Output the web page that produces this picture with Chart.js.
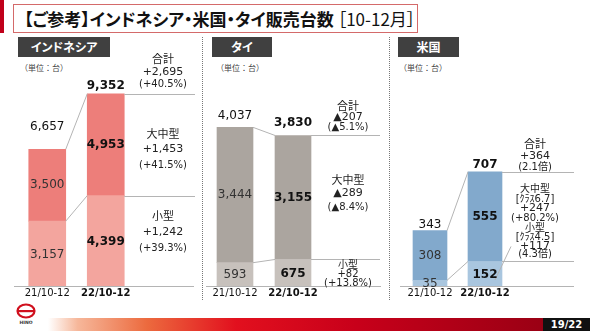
<!DOCTYPE html>
<html>
<head>
<meta charset="utf-8">
<script src="https://cdn.jsdelivr.net/npm/chart.js@4.4.0/dist/chart.umd.min.js"></script>
<style>
  html, body { margin: 0; padding: 0; }
  body { width: 590px; height: 331px; position: relative; overflow: hidden; background: #fff;
         font-family: "DejaVu Sans", "Noto Sans CJK JP", sans-serif; color: #222; }
  .abs { position: absolute; }
  .redtab { left: 0; top: 0; width: 4px; height: 33px; background: #c0001a; }
  .titlebox { left: 13px; top: 4px; width: 405px; height: 29px; border: 1px solid #d46a6a; box-sizing: border-box; }
  .title { left: 24px; top: 4px; height: 29px; line-height: 29px; font-family: "Noto Sans CJK JP", sans-serif;
           font-size: 17px; font-weight: bold; white-space: nowrap; font-feature-settings: "palt"; color: #111; }
  .title span { font-weight: normal; }
  .hdr { top: 37px; height: 20px; line-height: 20px; background: #404040; color: #fff; text-align: center;
         font-family: "Noto Sans CJK JP", sans-serif; font-weight: bold; font-size: 12px; font-feature-settings: "palt"; }
  .unit { top: 62px; font-family: "Noto Sans CJK JP", sans-serif; font-size: 8px; color: #444; white-space: nowrap; }
  .sep { top: 37px; width: 0; height: 263px; border-left: 1px dotted #777; }
  .note { width: 90px; text-align: center; font-size: 11px; line-height: 12px; height: 12px; white-space: nowrap; color: #222; }
  .note.s { font-size: 10px; }
  .wrap { position: absolute; }
  .footbar { left: 48px; top: 318px; width: 495px; height: 13px;
             background: linear-gradient(to right, #fff 0%, #f6b79a 6%, #ec6a3e 20%, #e2101e 38%, #c8001a 62%, #9a0014 100%); }
  .page { left: 543px; top: 318px; width: 47px; height: 13px; background: #111; color: #fff; font-size: 10px;
          font-weight: bold; line-height: 13px; text-align: center; }
</style>
</head>
<body>
<div class="abs redtab"></div>
<div class="abs titlebox"></div>
<div class="abs title">【ご参考】インドネシア・米国・タイ販売台数 <span>［10-12月］</span></div>

<div class="abs hdr" style="left:18px;width:92px;">インドネシア</div>
<div class="abs hdr" style="left:212px;width:60px;">タイ</div>
<div class="abs hdr" style="left:398px;width:61px;">米国</div>
<div class="abs unit" style="left:20px;">（単位：台）</div>
<div class="abs unit" style="left:216px;">（単位：台）</div>
<div class="abs unit" style="left:399px;">（単位：台）</div>
<div class="abs sep" style="left:202px;"></div>
<div class="abs sep" style="left:389px;"></div>

<div class="wrap" style="left:0px;top:60px;width:200px;height:240px;"><canvas id="c-indo"></canvas></div>
<div class="wrap" style="left:200px;top:60px;width:190px;height:240px;"><canvas id="c-thai"></canvas></div>
<div class="wrap" style="left:390px;top:60px;width:200px;height:240px;"><canvas id="c-us"></canvas></div>

<svg class="abs" style="left:14px;top:303px;" width="24" height="24" viewBox="0 0 24 24">
  <ellipse cx="12" cy="8" rx="8.5" ry="6.5" fill="none" stroke="#d0101e" stroke-width="2.2"/>
  <rect x="4" y="7" width="16" height="2.2" fill="#d0101e"/>
  <text x="12" y="21" font-size="4.5" font-weight="bold" text-anchor="middle" fill="#333" font-family="DejaVu Sans">HINO</text>
</svg>
<div class="abs footbar"></div>
<div class="abs page">19/22</div>

<script>
const categories = ['21/10-12', '22/10-12'];

const indoSmall = [3157, 4399];
const indoLarge = [3500, 4953];
const thaiSmall = [593, 675];
const thaiLarge = [3444, 3155];
const usSmall = [35, 152];
const usLarge = [308, 555];

const indoNotes = [['合計', 60], ['+2,695', 72], ['(+40.5%)', 84, 's'], ['大中型', 135], ['+1,453', 149], ['(+41.5%)', 165, 's'], ['小型', 217], ['+1,242', 232], ['(+39.3%)', 248, 's']];
const thaiNotes = [['合計', 107], ['▲207', 117], ['(▲5.1%)', 127, 's'], ['大中型', 181], ['▲289', 193], ['(▲8.4%)', 207, 's'], ['小型', 265, 's'], ['+82', 274, 's'], ['(+13.8%)', 283, 's']];
const usNotes = [['合計', 145], ['+364', 156], ['(2.1倍)', 167, 's'], ['大中型', 189, 's'], ['[ｸﾗｽ6.7]', 199, 's'], ['+247', 208], ['(+80.2%)', 218, 's'], ['小型', 228, 's'], ['[ｸﾗｽ4.5]', 237, 's'], ['+117', 246], ['(4.3倍)', 254, 's']];

function addNotes(notes, cx) {
  notes.forEach(n => {
    let d = document.createElement('div');
    d.className = 'abs note' + (n[2] ? ' ' + n[2] : '');
    d.style.left = (cx - 45) + 'px';
    d.style.top = (n[1] - 6) + 'px';
    d.textContent = n[0];
    document.body.appendChild(d);
  });
}
addNotes(indoNotes, 163);
addNotes(thaiNotes, 348);
addNotes(usNotes, 535);

const fmt = v => v.toLocaleString('en-US');
const FONT = '"DejaVu Sans", sans-serif';

const decor = {
  id: 'decor',
  afterDatasetsDraw(chart, args, o) {
    const ctx = chart.ctx;
    const lo = chart.getDatasetMeta(0).data, hi = chart.getDatasetMeta(1).data;
    const bottom = chart.chartArea.bottom;
    ctx.save();
    ctx.strokeStyle = '#b4b4b4';
    ctx.lineWidth = 1;
    ctx.beginPath();
    ctx.moveTo(o.baseFrom, bottom + 0.5);
    ctx.lineTo(o.baseTo, bottom + 0.5);
    // connectors between the two bars
    const r0 = lo[0].x + lo[0].width / 2, l1 = lo[1].x - lo[1].width / 2, r1 = lo[1].x + lo[1].width / 2;
    [[hi[0].y, hi[1].y], [lo[0].y, lo[1].y]].forEach(p => {
      ctx.moveTo(r0, p[0]);
      ctx.lineTo(l1, p[1]);
      ctx.moveTo(r1, Math.round(p[1]) + 0.5);
      ctx.lineTo(o.lineTo, Math.round(p[1]) + 0.5);
    });
    if (o.leader) {
      ctx.moveTo(r1 + 9, lo[1].y - 15);
      ctx.lineTo(r1 - 7, lo[1].base - 6);
    }
    ctx.stroke();

    // value labels
    ctx.textAlign = 'center';
    ctx.textBaseline = 'middle';
    const small = chart.data.datasets[0].data, large = chart.data.datasets[1].data;
    for (let i = 0; i < 2; i++) {
      ctx.font = (i === 1 ? 'bold ' : '') + '12px ' + FONT;
      ctx.fillStyle = '#111';
      ctx.fillText(fmt(small[i] + large[i]), hi[i].x, hi[i].y - o.totalOff[i]);
      ctx.fillStyle = i === 1 ? '#111' : '#333';
      ctx.fillText(fmt(large[i]), hi[i].x, (hi[i].y + hi[i].base) / 2);
      ctx.fillText(fmt(small[i]), lo[i].x, (lo[i].y + lo[i].base) / 2 + 1);
    }
    ctx.restore();
  }
};

function makeChart(id, small, large, colors, yMax, pad, bar, deco) {
  return new Chart(document.getElementById(id), {
    type: 'bar',
    data: {
      labels: categories,
      datasets: [
        { label: '小型', data: small, backgroundColor: colors[0], barThickness: bar },
        { label: '大中型', data: large, backgroundColor: colors[1], barThickness: bar }
      ]
    },
    options: {
      responsive: true,
      maintainAspectRatio: false,
      animation: false,
      devicePixelRatio: 1,
      layout: { padding: { left: pad[0], right: pad[1], top: 0, bottom: 0 } },
      plugins: { legend: { display: false }, tooltip: { enabled: false }, decor: deco },
      scales: {
        x: {
          stacked: true,
          grid: { display: false, drawTicks: false },
          border: { display: false },
          ticks: {
            padding: 1,
            maxRotation: 0,
            minRotation: 0,
            autoSkip: false,
            color: '#111',
            font: c => ({ family: FONT, size: 10, weight: c.index === 1 ? 'bold' : 'normal' })
          }
        },
        y: { stacked: true, display: false, min: 0, max: yMax }
      }
    },
    plugins: [decor]
  });
}

makeChart('c-indo', indoSmall, indoLarge, ['#f3a59e', '#ed7e7a'], 11000, [18, 65], 37,
  { baseFrom: 14, baseTo: 194, lineTo: 195, totalOff: [22, 8] });
makeChart('c-thai', thaiSmall, thaiLarge, ['#c7c1bc', '#aba59f'], 5750, [6, 68], 36,
  { baseFrom: 6, baseTo: 181, lineTo: 180, totalOff: [11, 13] });
makeChart('c-us', usSmall, usLarge, ['#a9c6df', '#82a9cc'], 1400, [12.5, 77.5], 34,
  { baseFrom: 10, baseTo: 184, lineTo: 184, totalOff: [6, 7], leader: true });
</script>
</body>
</html>
